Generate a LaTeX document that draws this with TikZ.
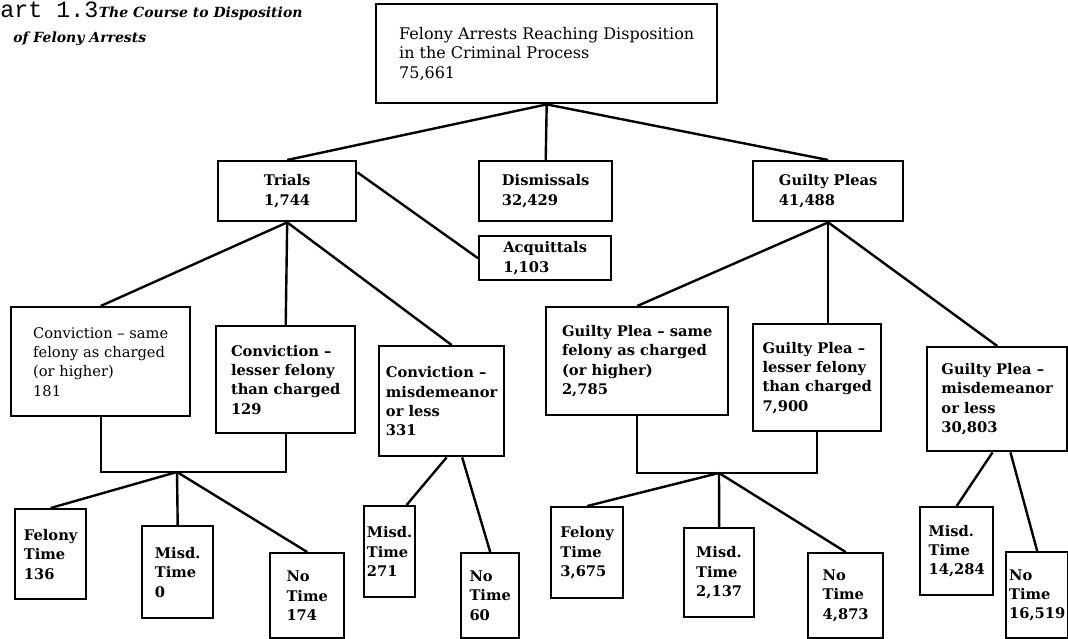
\documentclass[tikz,border=0pt]{standalone}
\usepackage{fontspec}
\setmainfont{DejaVu Serif}
\setmonofont{Liberation Mono}
\newcommand{\boxfont}{\fontsize{11}{14.5}\selectfont\bfseries}
\newcommand{\plainfont}{\fontsize{11}{14.5}\selectfont}
\newcommand{\titlefont}{\fontsize{10.5}{10.5}\selectfont\bfseries\itshape}
\tikzset{
	box/.style={draw, line width=1.8pt, anchor=north west, align=left, inner xsep=2pt, inner ysep=2pt, font=\boxfont},
	wire/.style={line width=1.8pt},
}

\begin{document}
\begin{tikzpicture}[x=0.75pt, y=-0.75pt]
		%%%%% FRAME %%%%%
		\useasboundingbox (0,0) rectangle (1068,639);
		
		%%%%% TITLE %%%%%
		\node[anchor=base west, inner sep=0pt, font=\ttfamily\fontsize{17.5}{17.5}\selectfont] (partno) at (0,17) {art 1.3};
		\node[anchor=base west, inner sep=0pt, font=\titlefont] (titleA) at (partno.base east) {The Course to Disposition};
		\node[anchor=base west, inner sep=0pt, font=\titlefont] (titleB) at (13,42) {of Felony Arrests};
		
		%%%%% TOP %%%%%
		\node[box, font=\fontsize{12}{14.75}\selectfont, minimum width=255.75pt, minimum height=74.25pt] (arrests) at (375,3) {Felony Arrests Reaching Disposition\\in the Criminal Process\\75,661};
		
		%%%%% FIRST ROW %%%%%
		\node[box, align=center, minimum width=103.5pt, minimum height=45pt] (trials) at (217,160) {Trials\\1,744};
		\node[box, minimum width=99.75pt, minimum height=45pt] (dismiss) at (478,160) {Dismissals\\32,429};
		\node[box, minimum width=112.5pt, minimum height=45pt] (guilty) at (752,160) {Guilty Pleas\\41,488};
		\node[box, minimum width=99pt, minimum height=33pt] (acquit) at (478,235) {Acquittals\\1,103};
		
		\draw[wire] (arrests.south) -- (dismiss.north);
		\draw[wire] (trials.north) -- (arrests.south) -- (guilty.north);
		\draw[wire] (trials.15) -- (acquit.west);
		
		%%%%% CONVICTIONS %%%%%
		\node[box, font=\plainfont, minimum width=134.25pt, minimum height=81.75pt] (convsame) at (10,306) {Conviction -- same\\felony as charged\\(or higher)\\181};
		\node[box, minimum width=104.25pt, minimum height=80.25pt] (convless) at (215,325) {Conviction --\\lesser felony\\than charged\\129};
		\node[box, minimum width=93.75pt, minimum height=82.5pt] (convmisd) at (378,345) {Conviction --\\misdemeanor\\or less\\331};
		
		\draw[wire] (trials.south) -- (convsame.north);
		\draw[wire] (trials.south) -- (convless.north);
		\draw[wire] (trials.south) -- (convmisd.80);
		
		%%%%% GUILTY PLEAS %%%%%
		\node[box, minimum width=136.5pt, minimum height=81pt] (pleasame) at (545,306) {Guilty Plea -- same\\felony as charged\\(or higher)\\2,785};
		\node[box, minimum width=96pt, minimum height=80.25pt] (plealess) at (752,323) {Guilty Plea --\\lesser felony\\than charged\\7,900};
		\node[box, minimum width=105pt, minimum height=78pt] (pleamisd) at (926,346) {Guilty Plea --\\misdemeanor\\or less\\30,803};
		
		\draw[wire] (guilty.south) -- (pleasame.north);
		\draw[wire] (guilty.south) -- (guilty.south |- plealess.north);
		\draw[wire] (guilty.south) -- (pleamisd.north);
		
		%%%%% SENTENCES AFTER CONVICTION %%%%%
		\coordinate (convjoin) at (177,472);
		\draw[wire] (convsame.south) |- (convless.south |- convjoin) -- (convless.south);
		
		\node[box, minimum width=53.25pt, minimum height=67.5pt] (cfelony) at (14,508) {Felony\\Time\\136};
		\node[box, minimum width=53.25pt, minimum height=69pt] (cmisd) at (141,525) {Misd.\\Time\\0};
		\node[box, minimum width=55.5pt, minimum height=63.75pt] (cnone) at (269,552) {No\\Time\\174};
		\node[box, minimum width=37.5pt, minimum height=68.25pt] (mmisd) at (363,505) {Misd.\\Time\\271};
		\node[box, minimum width=43.5pt, minimum height=63.75pt] (mnone) at (460,552) {No\\Time\\60};
		
		\draw[wire] (convjoin) -- (cfelony.north);
		\draw[wire] (convjoin) -- (cmisd.north);
		\draw[wire] (convjoin) -- (cnone.north);
		\draw[wire] (convmisd.-85) -- (mmisd.70);
		\draw[wire] (convmisd.-70) -- (mnone.north);
		
		%%%%% SENTENCES AFTER PLEA %%%%%
		\coordinate (pleajoin) at (719,473);
		\draw[wire] (pleasame.south) |- (plealess.south |- pleajoin) -- (plealess.south);
		
		\node[box, minimum width=54pt, minimum height=68.25pt] (pfelony) at (550,506) {Felony\\Time\\3,675};
		\node[box, minimum width=52.5pt, minimum height=66.75pt] (pmisd) at (683,527) {Misd.\\Time\\2,137};
		\node[box, minimum width=56.25pt, minimum height=63.75pt] (pnone) at (807,552) {No\\Time\\4,873};
		\node[box, minimum width=54.75pt, minimum height=66pt] (lmisd) at (919,506) {Misd.\\Time\\14,284};
		\node[box, minimum width=46.5pt, minimum height=64.5pt] (lnone) at (1005,551) {No\\Time\\16,519};
		
		\draw[wire] (pleajoin) -- (pfelony.north);
		\draw[wire] (pleajoin) -- (pmisd.north);
		\draw[wire] (pleajoin) -- (pnone.north);
		\draw[wire] (pleamisd.-95) -- (lmisd.north);
		\draw[wire] (pleamisd.-76) -- (lnone.north);
		
		%%%%% END %%%%%
	\end{tikzpicture}
\end{document}
